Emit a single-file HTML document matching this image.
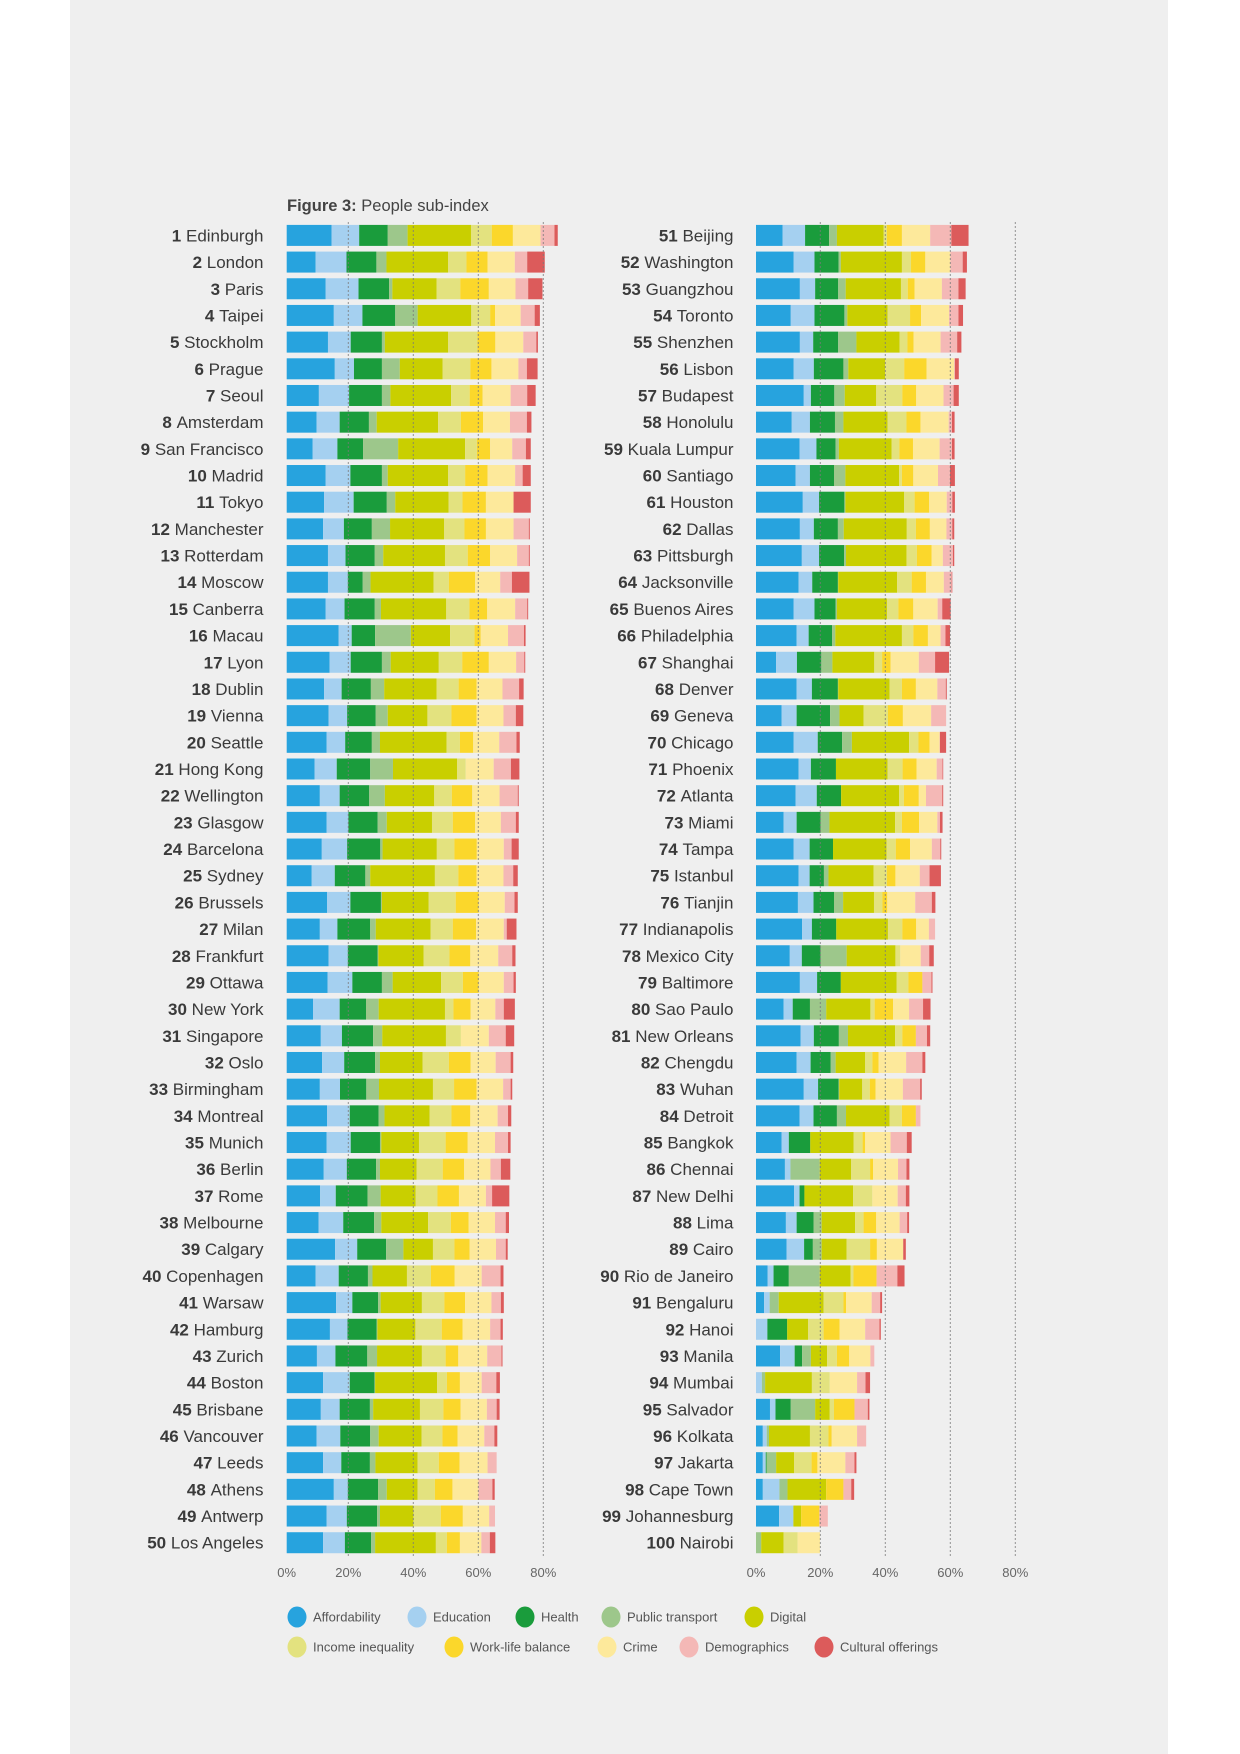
<!DOCTYPE html>
<html>
<head>
<meta charset="utf-8">
<style>
  html,body{margin:0;padding:0;background:#fff;}
  svg{display:block;font-family:"Liberation Sans",sans-serif;}
</style>
</head>
<body>
<svg id="chart" width="1240" height="1754" viewBox="0 0 1240 1754" xmlns="http://www.w3.org/2000/svg">
  <rect x="0" y="0" width="1240" height="1754" fill="#ffffff"/>
  <rect x="70" y="0" width="1098" height="1754" fill="#efefef"/>
  <text x="287" y="211" font-size="16.5" fill="#444"><tspan font-weight="bold">Figure 3:</tspan> People sub-index</text>
  <g id="bars"></g>
  <g id="grid"></g>
  <g id="labels"></g>
  <g id="ticks"></g>
  <g id="legend"></g>
</svg>
<script>
const cities = ["Edinburgh","London","Paris","Taipei","Stockholm","Prague","Seoul","Amsterdam","San Francisco","Madrid","Tokyo","Manchester","Rotterdam","Moscow","Canberra","Macau","Lyon","Dublin","Vienna","Seattle","Hong Kong","Wellington","Glasgow","Barcelona","Sydney","Brussels","Milan","Frankfurt","Ottawa","New York","Singapore","Oslo","Birmingham","Montreal","Munich","Berlin","Rome","Melbourne","Calgary","Copenhagen","Warsaw","Hamburg","Zurich","Boston","Brisbane","Vancouver","Leeds","Athens","Antwerp","Los Angeles","Beijing","Washington","Guangzhou","Toronto","Shenzhen","Lisbon","Budapest","Honolulu","Kuala Lumpur","Santiago","Houston","Dallas","Pittsburgh","Jacksonville","Buenos Aires","Philadelphia","Shanghai","Denver","Geneva","Chicago","Phoenix","Atlanta","Miami","Tampa","Istanbul","Tianjin","Indianapolis","Mexico City","Baltimore","Sao Paulo","New Orleans","Chengdu","Wuhan","Detroit","Bangkok","Chennai","New Delhi","Lima","Cairo","Rio de Janeiro","Bengaluru","Hanoi","Manila","Mumbai","Salvador","Kolkata","Jakarta","Cape Town","Johannesburg","Nairobi"];

const seriesNames = ["Affordability","Education","Health","Public transport","Digital","Income inequality","Work-life balance","Crime","Demographics","Cultural offerings"];
const seriesColors = ["#27a3de","#a5d0f0","#1a9c3c","#9dc78b","#c9cf00","#e3e27f","#fbd72b","#fde99b","#f4b8b6","#dc5b5b"];
const tickValues = [0,20,40,60,80];
const tickLabels = ["0%","20%","40%","60%","80%"];

const affordability = [13.8,8.9,12.0,14.5,12.7,14.8,9.9,9.2,8.0,12.0,11.5,11.2,12.7,12.7,12.0,16.0,13.2,11.5,12.9,12.3,8.6,10.2,12.3,10.8,7.7,12.4,10.2,12.9,12.6,8.1,10.5,10.9,10.2,12.4,12.3,11.4,10.3,9.8,14.9,8.9,15.2,13.3,9.3,11.2,10.5,9.2,11.2,14.5,12.3,11.2,
8.2,11.6,13.5,10.7,13.5,11.6,14.7,11.0,13.4,12.2,14.4,13.5,14.1,13.1,11.6,12.5,6.2,12.5,7.9,11.6,13.1,12.2,8.5,11.6,13.1,12.9,14.2,10.4,13.5,8.5,13.7,12.5,14.7,13.4,7.9,8.9,11.7,9.2,9.4,3.6,2.5,0,7.4,0,4.3,2.1,2.1,2.1,7.1,0];
const education = [8.5,9.5,10.1,8.8,7.0,5.9,9.3,7.1,7.6,7.6,9.1,6.4,5.4,6.1,5.8,4.0,6.5,5.4,5.7,5.7,6.8,6.1,6.7,7.8,7.1,7.2,5.4,5.9,7.6,8.2,6.5,6.8,6.2,7.0,7.4,7.1,4.8,7.6,6.8,7.1,5.0,5.4,5.7,8.2,5.8,7.3,5.6,4.3,6.2,6.7,
6.9,6.4,4.7,7.3,4.1,6.2,2.2,5.6,5.2,4.4,5.0,4.3,5.3,4.2,6.4,3.7,6.4,4.7,4.6,7.4,3.8,6.5,4.0,4.9,3.4,4.8,3.0,3.7,5.3,2.8,4.1,4.3,4.4,4.3,2.2,1.7,1.7,3.3,5.4,1.8,1.7,3.5,4.5,1.8,1.7,1.2,0.9,5.1,4.4,0];
const health = [8.8,9.2,9.4,10.1,9.6,8.6,10.1,9.0,7.9,9.7,10.2,8.6,9.0,4.6,9.3,7.2,9.6,9.0,8.8,8.2,10.3,9.1,9.0,10.2,9.4,9.4,10.1,9.2,9.1,8.1,9.6,9.5,8.1,8.9,9.0,9.0,9.8,9.5,8.9,9.0,7.9,9.0,9.8,7.6,9.3,9.2,8.8,9.3,9.3,8.1,
7.4,7.4,7.1,9.2,7.7,9.1,7.2,7.7,5.9,7.4,7.8,7.4,7.7,7.9,6.5,7.2,7.5,8.0,10.3,7.5,7.7,7.5,7.4,7.2,4.4,6.3,7.5,5.8,7.3,5.3,7.7,6.2,6.3,7.2,6.6,0,1.5,5.2,2.7,4.7,0,6.1,2.3,0,4.7,0,0.3,0,0,0];
const publicTransport = [6.1,3.1,1.0,6.9,0.9,5.5,2.6,2.4,10.8,1.8,2.6,5.6,2.6,2.4,1.9,11.0,2.7,4.1,3.7,2.5,7.0,4.8,2.8,0.7,1.5,0.3,1.7,0.2,3.3,3.9,2.8,1.5,3.9,1.8,0.4,1.2,4.0,2.2,5.3,1.4,0.8,0.2,3.0,0.2,1.0,2.6,1.7,2.7,0.9,1.2,
2.4,0.7,2.3,0.9,5.6,1.5,3.2,2.6,1.0,3.5,0.3,1.8,0.6,0.1,0.4,1.0,3.4,0.1,2.9,3.0,0,0,2.7,0,1.4,2.8,0,8.0,0,5.0,2.8,1.5,0.2,2.8,0,9.0,0,2.5,2.7,9.5,2.8,0,2.7,1.0,7.5,0.7,2.9,2.5,0,1.6];
const digital = [19.5,19.0,13.6,16.5,19.5,13.2,18.7,18.9,20.6,18.6,16.4,16.6,19.0,19.4,20.1,12.1,14.8,16.1,12.2,20.5,19.7,15.2,13.9,16.7,19.9,14.4,16.9,13.9,14.9,20.4,19.6,13.1,16.6,13.9,11.6,11.3,10.8,14.4,9.1,10.6,12.7,11.7,13.8,19.1,14.4,13.2,13.0,9.5,10.3,18.7,
14.4,18.8,17.0,12.4,13.3,11.3,9.7,13.6,16.2,16.5,18.1,19.4,18.6,18.1,15.4,20.5,12.9,15.8,7.4,17.6,15.9,17.8,20.2,16.5,13.9,9.5,15.9,15.0,17.2,13.6,14.5,9.1,7.1,13.4,13.3,9.7,15.0,10.3,7.7,9.5,13.8,6.4,5.0,14.4,4.5,12.6,5.5,11.9,2.4,6.9];
const incomeInequality = [6.4,5.6,7.3,5.8,9.0,8.5,5.7,7.0,3.6,5.2,4.3,6.3,7.0,4.7,7.1,7.5,7.2,6.8,7.4,4.1,2.7,5.4,6.4,5.4,7.2,8.3,6.8,8.0,6.7,2.6,4.6,8.1,6.5,6.7,8.2,8.0,6.7,7.0,6.6,7.4,6.9,8.1,7.3,3.0,7.2,6.4,6.5,5.3,8.4,3.4,
1.0,2.8,2.1,6.9,2.4,5.9,8.0,5.8,2.4,0.9,3.2,2.8,3.2,4.5,3.5,3.5,2.4,3.8,7.5,2.9,4.6,1.5,2.1,2.8,4.1,2.6,4.4,1.5,3.6,1.3,2.2,2.2,2.3,3.8,2.8,5.8,5.9,2.6,7.2,0.9,6.1,4.8,3.0,5.5,1.3,5.7,5.4,0,0,4.3];
const workLife = [6.5,6.5,8.8,1.5,5.5,6.5,4.0,6.8,4.1,6.9,7.2,6.6,6.9,8.1,5.5,1.9,8.2,5.5,7.7,4.1,0,6.3,6.9,6.9,5.6,7.1,7.2,6.4,4.9,5.3,0,6.7,6.9,5.8,6.8,6.6,6.6,5.5,4.7,7.3,6.4,6.4,3.9,4.0,5.3,4.7,6.4,5.4,6.8,4.0,
4.6,4.4,2.1,3.4,1.9,6.9,4.3,4.3,4.2,3.5,4.5,4.3,4.5,4.4,4.6,4.5,2.6,4.3,4.6,3.4,4.3,4.6,5.3,4.4,2.6,1.5,4.3,0,4.3,5.7,4.2,1.9,1.8,4.3,0.8,0.9,0,3.9,2.1,7.1,0.8,4.9,3.8,0,6.3,1.0,1.8,5.3,5.6,0];
const crime = [8.5,8.4,8.2,7.9,8.6,8.3,8.6,8.3,6.8,8.5,8.5,8.5,8.3,7.7,8.6,8.4,8.4,8.0,8.3,8.0,8.6,8.4,7.9,8.3,8.3,8.0,8.5,8.6,7.7,7.6,8.6,7.7,8.2,8.4,8.4,8.1,8.3,8.1,8.1,8.3,8.1,8.5,8.9,6.7,8.1,8.2,8.6,8.0,8.1,6.6,
8.7,7.7,8.4,8.6,8.3,8.5,8.4,8.7,8.2,7.6,5.4,5.1,3.5,5.5,7.5,3.9,8.7,6.6,8.7,3.1,6.2,2.2,5.6,6.7,7.5,8.6,3.9,6.3,0,4.9,0,8.5,8.4,0,7.8,7.7,7.8,7.2,8.1,0,7.9,7.9,6.5,8.4,0,7.8,8.6,0,0,6.9];
const demographics = [4.3,3.8,3.9,4.3,4.0,2.6,5.1,5.2,4.2,2.3,0,4.7,3.6,3.6,3.7,4.9,2.5,5.1,3.8,5.3,5.3,5.6,4.6,2.4,3.0,3.0,0.9,4.3,3.0,2.6,5.2,4.6,2.3,3.2,4.0,3.2,1.9,3.3,3.0,5.8,2.9,3.2,4.4,4.5,3.0,3.1,2.8,4.3,1.8,2.6,
6.5,3.8,5.1,2.9,5.1,0.2,3.1,1.0,3.8,3.7,1.7,1.8,3.1,2.4,1.4,1.5,5.0,2.6,4.6,0.1,1.8,5.0,0.8,2.6,3.0,5.1,1.9,2.6,2.8,4.3,3.4,5.0,5.3,1.4,5.0,2.6,2.5,2.3,0,6.4,2.6,4.4,1.2,2.6,4.1,2.8,2.8,2.4,2.6,0];
const culturalOfferings = [1.0,5.4,4.4,1.6,0.5,3.3,2.6,1.4,1.5,2.5,5.3,0.3,0.3,5.4,0.3,0.5,0.3,1.4,2.3,1.0,2.6,0.3,0.9,2.2,1.4,1.0,3.0,1.0,0.7,3.4,2.6,0.8,0.5,1.0,0.8,2.9,5.3,1.0,0.6,0.9,0.9,0.7,0.3,1.1,0.9,0.9,0,0.7,0,1.7,
5.3,1.3,2.2,1.4,1.3,1.2,1.6,0.8,0.8,1.5,0.8,0.6,0.4,0.2,2.6,1.4,4.3,0.3,0,1.9,0.2,0.3,0.8,0.3,3.5,1.1,0,1.4,0.3,2.3,1.0,0.9,0.5,0,1.5,0.9,1.1,0.6,0.8,2.2,0.6,0.4,0,1.4,0.5,0,0.6,0.9,0,0];

const series = [affordability,education,health,publicTransport,digital,incomeInequality,workLife,crime,demographics,culturalOfferings];
const seriesKeys = ["affordability","education","health","public-transport","digital","income-inequality","work-life-balance","crime","demographics","cultural-offerings"];

const NS = "http://www.w3.org/2000/svg";
const PX_PER_PCT = 3.25;
const panels = [
  {barOrigin: 286.7, gridOrigin: 283.3, labelRight: 263.5},
  {barOrigin: 756.0, gridOrigin: 755.3, labelRight: 733.5}
];
const ROW0 = 235.4, ROW_STEP = 26.68, BAR_H = 21;
function xBar(p, v){ return panels[p].barOrigin + v * PX_PER_PCT; }
function xGrid(p, v){ return panels[p].gridOrigin + v * PX_PER_PCT; }
function yRow(i){ return ROW0 + (i % 50) * ROW_STEP; }
function mk(tag, attrs){ const e = document.createElementNS(NS, tag); for (const k in attrs) e.setAttribute(k, attrs[k]); return e; }

const gBars = document.getElementById("bars");
const gLabels = document.getElementById("labels");
cities.forEach((city, i) => {
  const p = i < 50 ? 0 : 1;
  const yc = yRow(i);
  let cum = 0;
  const row = mk("g", {});
  
  
  series.forEach((arr, s) => {
    const v = arr[i];
    if (v > 0) {
      const x1 = xBar(p, cum), x2 = xBar(p, cum + v);
      const r = mk("rect", {x: x1.toFixed(2), y: (yc - BAR_H/2).toFixed(2), width: (x2 - x1).toFixed(2), height: BAR_H, fill: seriesColors[s]});
      
      
      row.appendChild(r);
    }
    cum += v;
  });
  gBars.appendChild(row);
  const t = mk("text", {x: panels[p].labelRight, y: (yc + 6).toFixed(2), "text-anchor": "end", "font-size": "17", fill: "#3a3a3a"});
  
  
  const b = mk("tspan", {"font-weight": "bold"}); b.textContent = (i + 1) + " ";
  const n = mk("tspan", {}); n.textContent = city;
  t.appendChild(b); t.appendChild(n);
  gLabels.appendChild(t);
});

const gGrid = document.getElementById("grid");
const gTicks = document.getElementById("ticks");
[0,1].forEach(p => {
  tickValues.forEach((v, k) => {
    if (v > 0) {
      const x = xGrid(p, v);
      const l = mk("line", {x1: x, x2: x, y1: 222, y2: 1557, stroke: "#7a7a7a", "stroke-width": "1", "stroke-dasharray": "2,2", opacity: "0.8"});
      
      
      gGrid.appendChild(l);
    }
    const tx = v === 0 ? panels[p].barOrigin : xGrid(p, v);
    const t = mk("text", {x: tx.toFixed(2), y: 1577, "text-anchor": "middle", "font-size": "13", fill: "#666"});
    
    
    t.textContent = tickLabels[k];
    gTicks.appendChild(t);
  });
});

const legendPos = [[297,1617],[417,1617],[525,1617],[611,1617],[754,1617],[297,1647],[454,1647],[607,1647],[689,1647],[824,1647]];
const gLegend = document.getElementById("legend");
seriesNames.forEach((name, s) => {
  const g = mk("g", {});
  
  
  const [cx, cy] = legendPos[s];
  const c = mk("ellipse", {cx: cx, cy: cy, rx: 9.5, ry: 10.5, fill: seriesColors[s]});
  
  
  const t = mk("text", {x: cx + 16, y: cy + 4.5, "font-size": "13", fill: "#555"});
  
  
  t.textContent = name;
  g.appendChild(c); g.appendChild(t);
  gLegend.appendChild(g);
});
</script>
</body>
</html>
